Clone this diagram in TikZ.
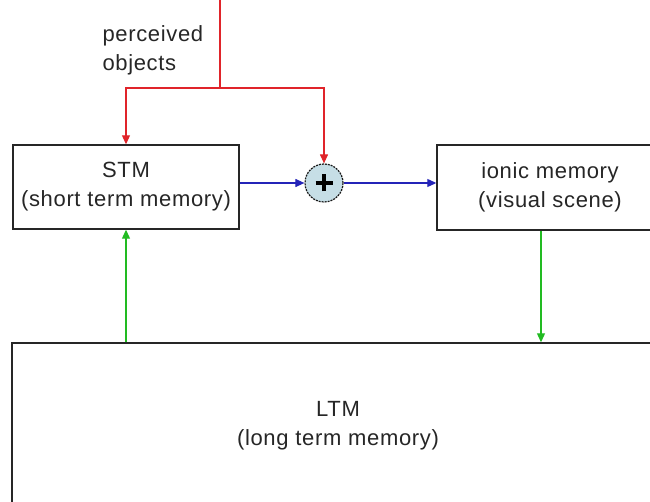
\documentclass[tikz,border=0pt]{standalone}
\usepackage{fontspec}
\setmainfont{Liberation Sans}[LetterSpace=3]
\usetikzlibrary{arrows.meta}
\definecolor{redline}{HTML}{E0242A}
\definecolor{blueline}{HTML}{2424B8}
\definecolor{greenline}{HTML}{22BB22}
\definecolor{sumfill}{HTML}{C6DEE6}
\begin{document}
\begin{tikzpicture}[x=1pt,y=-1pt,
  txt/.style={font=\fontsize{22}{29}\selectfont, text=black!85, align=center},
  memblock/.style={draw=black!85, line width=1.4pt, fill=white, txt, inner sep=0pt},
  sumnode/.style={circle, draw=black!90, dash pattern=on 2pt off 1pt,
    fill=sumfill, line width=1.2pt, minimum size=38pt, inner sep=0pt},
  tip/.style={-{Triangle[length=9pt,width=8pt]}},
  redarrow/.style={draw=redline, line width=1.1pt},
  bluearrow/.style={draw=blueline, line width=1.1pt},
  greenarrow/.style={draw=greenline, line width=1.1pt}]
\useasboundingbox (0,0) rectangle (650,502);
\clip (0,0) rectangle (650,502);

% memory blocks
\node[memblock, minimum width=226pt, minimum height=84pt] (stm) at (126,187)
  {STM\\(short term memory)};
\node[memblock, minimum width=226pt, minimum height=85pt] (ionic) at (550,187.5)
  {ionic memory\\(visual scene)};
\node[memblock, minimum width=652pt, minimum height=166pt] (ltm) at (338,426)
  {LTM\\(long term memory)};

% summing junction
\node[sumnode] (sum) at (324,183) {};
\draw[line width=3.4pt, black] ([xshift=-8.5pt]sum.center) -- ([xshift=8.5pt]sum.center)
  ([yshift=-8.5pt]sum.center) -- ([yshift=8.5pt]sum.center);

% perceived objects input
\node[txt, align=left, anchor=base west] (label) at (99,71) {perceived\\objects};
\coordinate (src) at (220,0);
\coordinate (split) at (220,88);
\draw[redarrow] (src) -- (split);
\draw[redarrow, tip] (split) -| (stm.north);
\draw[redarrow, tip] (split) -| (sum.north);

% STM -> sum -> ionic memory
\draw[bluearrow, tip] (sum -| stm.east) -- (sum.west);
\draw[bluearrow, tip] (sum.east) -- (sum -| ionic.west);

% LTM <-> memories
\draw[greenarrow, tip] (ltm.north -| stm.south) -- (stm.south);
\coordinate (ionicout) at ([xshift=-9pt]ionic.south);
\draw[greenarrow, tip] (ionicout) -- (ionicout |- ltm.north);
\end{tikzpicture}
\end{document}
